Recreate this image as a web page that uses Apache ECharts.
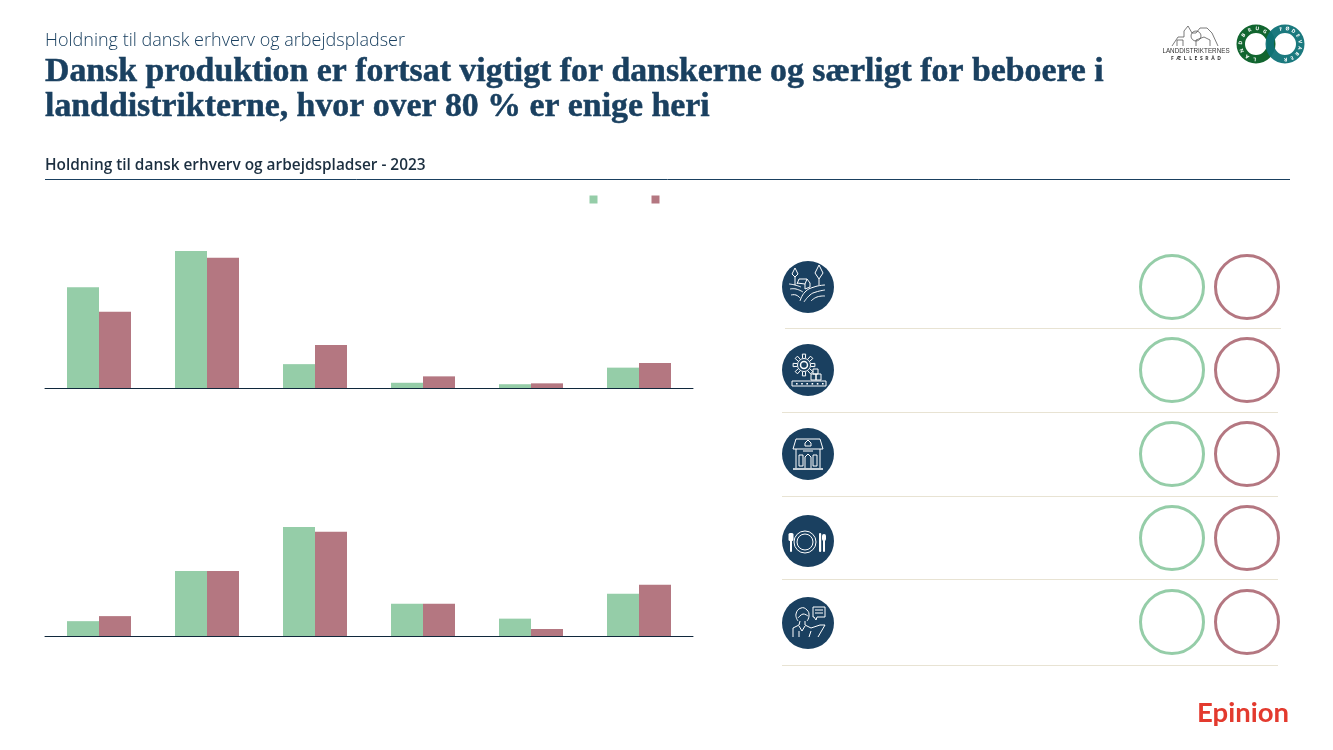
<!DOCTYPE html>
<html>
<head>
<meta charset="utf-8">
<title>Holdning til dansk erhverv og arbejdspladser</title>
<script src="https://cdn.jsdelivr.net/npm/echarts@6/dist/echarts.min.js"></script>
<style>
html, body { margin: 0; padding: 0; background: #fff; }
#main { width: 1333px; height: 750px; }
</style>
</head>
<body>
<div id="main"></div>
<script>
// data (the labels are blank in the reference)
var categories = ['Svar 1', 'Svar 2', 'Svar 3', 'Svar 4', 'Svar 5', 'Svar 6'];
var seriesNames = ['Gruppe 1', 'Gruppe 2'];
var topGreen = [34.6, 47.1, 8.2, 1.8, 1.3, 7.0];
var topRed = [26.2, 44.8, 14.8, 4.0, 1.6, 8.6];
var bottomGreen = [5.3, 23.2, 38.9, 11.5, 6.2, 15.1];
var bottomRed = [7.1, 23.2, 37.2, 11.5, 2.5, 18.3];
var rowY = [287, 370, 454, 541, 623];
var ringY = [287, 370, 454, 538, 622];

var GREEN = '#95cda8', RED = '#b47781', NAVY = '#1a4060', RULE = '#e8e3d3';

var myChart = echarts.init(document.getElementById('main'));

// small helpers for the icons and the logos
function stroke(color, w) {
    return { fill: 'none', stroke: color || '#fff', lineWidth: w || 1 };
}
function ln(pts, smooth, color, w) {
    return { type: 'polyline', shape: { points: pts, smooth: smooth || 0 }, style: stroke(color, w), silent: true };
}
function circ(x, y, r, color, w) {
    return { type: 'circle', shape: { cx: x, cy: y, r: r }, style: stroke(color, w), silent: true };
}
function box(x, y, w, h, color) {
    return { type: 'rect', shape: { x: x, y: y, width: w, height: h }, style: stroke(color), silent: true };
}
function fillBox(x, y, w, h, r) {
    return { type: 'rect', shape: { x: x, y: y, width: w, height: h, r: r || 0 }, style: { fill: '#fff' }, silent: true };
}
function rule(x1, x2, y, color, w) {
    return {
        type: 'line', shape: { x1: x1, y1: y, x2: x2, y2: y }, silent: true,
        style: { stroke: color, lineWidth: w || 1 }
    };
}
function label(x, y, text, font, color, align) {
    return {
        type: 'text', x: x, y: y, silent: true,
        style: { text: text, font: font, fill: color, textAlign: align || 'left', textVerticalAlign: 'middle' }
    };
}

// bue-tekst i logoet, et bogstav ad gangen
function arcText(cx, cy, r, text, startDeg, stepDeg, color) {
    var out = [];
    for (var i = 0; i < text.length; i++) {
        var deg = startDeg + i * stepDeg;
        var rad = deg * Math.PI / 180;
        out.push({
            type: 'text', silent: true,
            x: cx + r * Math.sin(rad), y: cy - r * Math.cos(rad), rotation: -rad,
            style: { text: text[i], font: 'bold 5px "Open Sans"', fill: color, textAlign: 'center', textVerticalAlign: 'middle' }
        });
    }
    return out;
}

var farmIcon = [
    ln([[-19, -3], [-13, -2], [-7, 0]], 0.5),
    ln([[-18, 2], [-12, 2], [-5, 5]], 0.5),
    ln([[-17, 8], [-12, 8], [-8, 11]], 0.5),
    ln([[-8, 14], [-3, 5], [6, 0], [17, -2]], 0.5),
    ln([[-4, 15], [2, 8], [8, 5], [17, 3]], 0.5),
    ln([[3, 14], [9, 10], [17, 9]], 0.5),
    ln([[-11, -3], [-9, -8], [-1, -8], [2, -4], [2, 0], [-3, 2]]),
    ln([[-11, -4], [-3, -3], [-1, -8]]),
    ln([[-3, -3], [-3, 2]]),
    ln([[-13, -10], [-16, -13], [-13, -19], [-10, -13], [-13, -10], [-13, -2]]),
    ln([[11, -8], [7, -14], [11, -22], [15, -14], [11, -8], [11, -2]])
];
var factoryIcon = [
    circ(-4, -5, 6.5),
    circ(-4, -5, 3.5, '#fff', 1.5),
    box(-16, 11, 34, 5),
    box(5, -1, 5, 5),
    box(8, 4, 5, 6),
    box(3, 4, 5, 6)
];
// tandhjul
for (var t = 0; t < 8; t++) {
    var a = t * Math.PI / 4;
    factoryIcon.push(ln([
        [-4 + 7 * Math.cos(a - 0.2), -5 + 7 * Math.sin(a - 0.2)],
        [-4 + 11 * Math.cos(a - 0.15), -5 + 11 * Math.sin(a - 0.15)],
        [-4 + 11 * Math.cos(a + 0.15), -5 + 11 * Math.sin(a + 0.15)],
        [-4 + 7 * Math.cos(a + 0.2), -5 + 7 * Math.sin(a + 0.2)]
    ]));
}
for (var d = 0; d < 6; d++) {
    factoryIcon.push(fillBox(-12 + d * 5.2, 13, 1.6, 1.6));
}
var shopIcon = [
    ln([[-15, -5], [-12, -15], [12, -15], [15, -5], [-15, -5]]),
    ln([[-12, -5], [-12, 14]]),
    ln([[12, -5], [12, 14]]),
    rule(-15, 15, 15, '#fff', 1.5),
    box(-9, 1, 4, 11),
    box(5, 1, 4, 11),
    ln([[-3, 14], [-3, 3], [0, 0], [3, 3], [3, 14]]),
    ln([[-3, -8], [-3, -11], [0, -14], [3, -11], [3, -8], [-3, -8]]),
    rule(-5, 5, -3, '#fff', 1)
];
var plateIcon = [
    circ(-3, 1, 11),
    circ(-3, 1, 8),
    fillBox(-18, -1, 2, 12, 1),
    fillBox(-19.5, -8, 5, 8, 1.5),
    fillBox(11, -8, 2.2, 19, 1),
    fillBox(15, -1, 2, 12, 1),
    fillBox(14, -7, 4, 7, 2)
];
var personIcon = [
    ln([[-10, -2], [-12, -9], [-7, -15], [-1, -13], [1, -7], [-1, -2]], 0.5),
    ln([[-10, -5], [-5, -9], [0, -7]], 0.4),
    ln([[-8, -2], [-9, 2], [-15, 5], [-15, 14]]),
    ln([[-3, -2], [-3, 2], [3, 5], [12, 2], [17, 2], [10, 14]]),
    ln([[-9, 3], [-6, 8], [-3, 3]]),
    ln([[-9, 8], [-9, 14]]),
    ln([[3, 8], [1, 14]]),
    ln([[5, -16], [17, -16], [17, -6], [9, -6], [8, -3], [6, -6], [5, -6], [5, -16]]),
    rule(7, 15, -13, '#fff', 1),
    rule(7, 15, -10, '#fff', 1)
];
var icons = [farmIcon, factoryIcon, shopIcon, plateIcon, personIcon];

var graphics = [
    rule(45, 1290, 179.5, NAVY, 1),
    // rækker til højre
    rule(785, 1281, 328.5, RULE),
    rule(782, 1278, 412.5, RULE),
    rule(782, 1278, 496.5, RULE),
    rule(782, 1278, 579.5, RULE),
    rule(782, 1278, 665.5, RULE)
];
rowY.forEach(function (y, i) {
    graphics.push({
        type: 'circle', shape: { cx: 808, cy: y, r: 26 }, style: { fill: NAVY }, silent: true
    });
    graphics.push({ type: 'group', x: 808, y: y, silent: true, children: icons[i] });
});
ringY.forEach(function (y) {
    graphics.push({ type: 'circle', shape: { cx: 1172, cy: y, r: 31.5 }, style: stroke(GREEN, 3), silent: true });
    graphics.push({ type: 'circle', shape: { cx: 1247, cy: y, r: 31.5 }, style: stroke(RED, 3), silent: true });
});

// logoer
var inkLogo = '#444';
graphics.push(
    ln([[1172, 46], [1178, 37], [1184, 37], [1184, 31], [1188, 26], [1192, 33], [1196, 33], [1200, 28], [1207, 28], [1212, 33], [1218, 46]], 0, inkLogo, 0.7),
    ln([[1177, 46], [1177, 40], [1183, 40], [1183, 46]], 0, inkLogo, 0.7),
    ln([[1196, 46], [1196, 40], [1204, 37], [1210, 40], [1210, 46]], 0, inkLogo, 0.7),
    circ(1196, 36, 5, inkLogo, 0.7),
    label(1196, 51.5, 'LANDDISTRIKTERNES', '6.3px "Liberation Sans"', '#333', 'center'),
    label(1196, 58.5, 'F  Æ  L  L  E  S  R  Å  D', 'bold 5px "Open Sans"', '#333', 'center'),
    { type: 'ring', shape: { cx: 1256, cy: 44, r: 19.5, r0: 11 }, style: { fill: '#11652f' }, silent: true },
    { type: 'ring', shape: { cx: 1285, cy: 44, r: 19.5, r0: 11 }, style: { fill: '#0f7277', opacity: 0.95 }, silent: true },
    label(1289, 713, 'Epinion', 'bold 27.5px Lato', '#e33a2e', 'right')
);
graphics = graphics.concat(
    arcText(1256, 44, 15.2, 'LANDBRUG', -175, 30, '#fff'),
    arcText(1285, 44, 15.2, 'FØDEVARER', -15, 24, '#fff')
);

function barSeries(name, data, color, xIndex) {
    return {
        name: name,
        type: 'bar',
        xAxisIndex: xIndex,
        yAxisIndex: xIndex,
        barWidth: 32,
        barGap: 0,
        silent: true,
        data: data,
        itemStyle: { color: color }
    };
}
function categoryAxis(gridIndex) {
    return {
        type: 'category',
        gridIndex: gridIndex,
        data: categories,
        axisTick: { show: false },
        axisLabel: { show: false },
        axisLine: { lineStyle: { color: '#10283c', width: 1 } }
    };
}
function valueAxis(gridIndex, max) {
    return { type: 'value', gridIndex: gridIndex, min: 0, max: max, show: false };
}

var option = {
    animation: false,
    backgroundColor: '#fff',
    title: [
        {
            text: 'Holdning til dansk erhverv og arbejdspladser', left: 45, top: 32, padding: 0,
            textStyle: { fontFamily: 'Open Sans', fontWeight: 300, fontSize: 18, color: NAVY }
        },
        {
            text: 'Dansk produktion er fortsat vigtigt for danskerne og særligt for beboere i\nlanddistrikterne, hvor over 80 % er enige heri', left: 45, top: 55, padding: 0,
            textStyle: {
                fontFamily: 'Liberation Serif', fontWeight: 'bold', fontSize: 33.8, lineHeight: 35, color: NAVY,
                textBorderColor: NAVY, textBorderWidth: 0.5
            }
        },
        {
            text: 'Holdning til dansk erhverv og arbejdspladser - 2023', left: 45, top: 158, padding: 0,
            textStyle: { fontFamily: 'Open Sans', fontWeight: 600, fontSize: 15.4, color: '#1c2f40' }
        }
    ],
    legend: {
        left: 589.5, top: 195.5, padding: 0,
        icon: 'rect',
        itemWidth: 8, itemHeight: 8, itemGap: 54,
        selectedMode: false,
        formatter: function () { return ''; },
        data: seriesNames
    },
    grid: [
        { left: 45, width: 648, top: 228, height: 160 },
        { left: 45, width: 648, top: 510, height: 126 }
    ],
    xAxis: [categoryAxis(0), categoryAxis(1)],
    yAxis: [valueAxis(0, 55), valueAxis(1, 45)],
    series: [
        barSeries(seriesNames[0], topGreen, GREEN, 0),
        barSeries(seriesNames[1], topRed, RED, 0),
        barSeries(seriesNames[0], bottomGreen, GREEN, 1),
        barSeries(seriesNames[1], bottomRed, RED, 1)
    ],
    graphic: { elements: graphics }
};
myChart.setOption(option);
</script>
</body>
</html>
